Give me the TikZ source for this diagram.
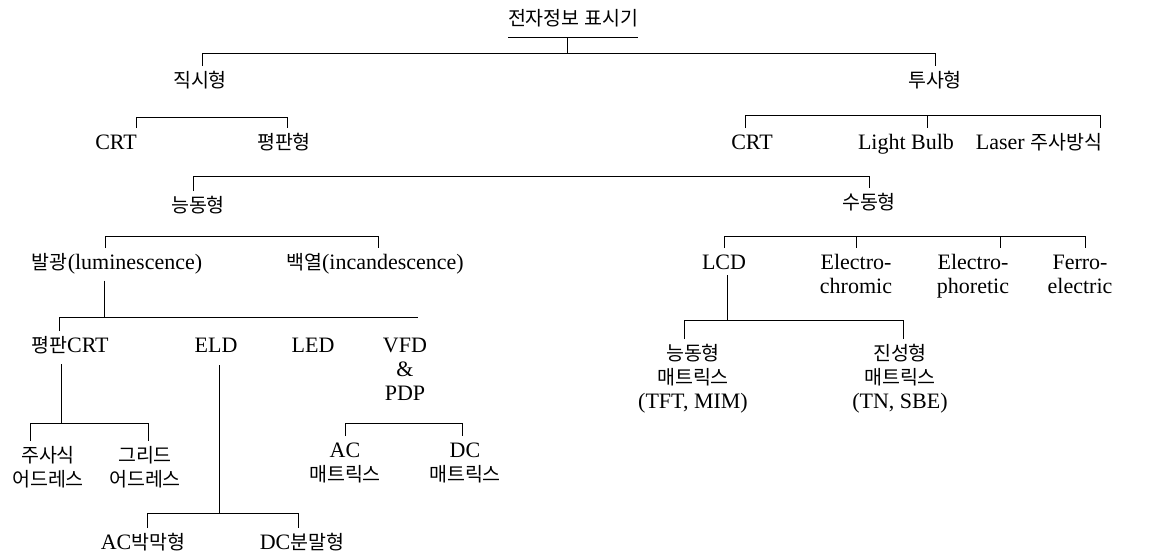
\documentclass[tikz,border=0pt]{standalone}
\usepackage{fontspec}
\setmainfont{Liberation Serif}
\newfontfamily\krfont{Noto Sans CJK KR}
\newcommand\K[1]{{\krfont\fontsize{19.5}{24}\selectfont #1}}
\newcommand\st{\rule{0pt}{17pt}}
\begin{document}
\begin{tikzpicture}[x=1pt,y=-1pt,
  lbl/.style={anchor=north, inner sep=0pt, outer sep=4pt, align=center, font=\fontsize{22}{24}\selectfont},
  ln/.style={line width=0.9pt}]
\useasboundingbox (0,0) rectangle (1152,554);
\fill[white] (0,0) rectangle (1152,554);
% nodes
\node[lbl] (root) at (573,4) {\st\K{전자정보 표시기}};
\node[lbl] (zs) at (200,66) {\st\K{직시형}};
\node[lbl] (ts) at (935,66) {\st\K{투사형}};
\node[lbl] (crtA) at (116,128) {\st CRT};
\node[lbl] (pph) at (284,128) {\st\K{평판형}};
\node[lbl] (crtB) at (752,128) {\st CRT};
\node[lbl] (lb) at (906,128) {\st Light Bulb};
\node[lbl] (laser) at (1039,128) {\st Laser \K{주사방식}};
\node[lbl] (nd) at (198,191) {\st\K{능동형}};
\node[lbl] (sd) at (869,188) {\st\K{수동형}};
\node[lbl] (bg) at (117,248) {\st\K{발광}(luminescence)};
\node[lbl] (by) at (375,248) {\st\K{백열}(incandescence)};
\node[lbl] (pc) at (70,331) {\st\K{평판}CRT};
\node[lbl] (eld) at (216,331) {\st ELD};
\node[lbl] (led) at (313,331) {\st LED};
\node[lbl] (vfd) at (405,331) {\st VFD\\\&\\PDP};
\node[lbl] (jus) at (48,441) {\st\K{주사식}\\\K{어드레스}};
\node[lbl] (gri) at (145,441) {\st\K{그리드}\\\K{어드레스}};
\node[lbl] (acb) at (143,528) {\st AC\K{박막형}};
\node[lbl] (dcb) at (302,528) {\st DC\K{분말형}};
\node[lbl] (acm) at (345,436) {\st AC\\\K{매트릭스}};
\node[lbl] (dcm) at (465,436) {\st DC\\\K{매트릭스}};
\node[lbl] (lcd) at (724,248) {\st LCD};
\node[lbl] (ec) at (856,248) {\st Electro-\\chromic};
\node[lbl] (ep) at (973,248) {\st Electro-\\phoretic};
\node[lbl] (fe) at (1080,248) {\st Ferro-\\electric};
\node[lbl] (ndm) at (693,339) {\st\K{능동형}\\\K{매트릭스}\\(TFT, MIM)};
\node[lbl] (jsm) at (900,339) {\st\K{진성형}\\\K{매트릭스}\\(TN, SBE)};
% junction coordinates
\coordinate (ru) at (567,37);
\coordinate (b0) at (567,53);
\coordinate (b1) at (140,117);
\coordinate (b2) at (927,115);
\coordinate (b3) at (193,176);
\coordinate (b4) at (105,236);
\coordinate (b5) at (104,317);
\coordinate (b5e) at (418,317);
\coordinate (b6) at (61,423);
\coordinate (b7) at (219,513);
\coordinate (b8) at (405,423);
\coordinate (b9) at (724,236);
\coordinate (b10) at (727,320);
% connectors
\draw[ln] ([xshift=4pt]root.west|-ru) -- ([xshift=-4pt]root.east|-ru);
\draw[ln] (ru) -- (b0);
\draw[ln] ([xshift=2pt]zs.north) -- ([xshift=2pt]zs.north|-b0) -- (ts.north|-b0) -- (ts.north);
\draw[ln] ([xshift=-4pt]crtA.north east) -- ([xshift=-4pt]crtA.north east|-b1) -- ([xshift=3pt]pph.north|-b1) -- ([xshift=3pt]pph.north);
\draw[ln] ([xshift=-7pt]crtB.north) -- ([xshift=-7pt]crtB.north|-b2) -- ([xshift=61pt]laser.north|-b2) -- ([xshift=61pt]laser.north);
\draw[ln] (b2) -- ([xshift=21pt]lb.north);
\draw[ln] ([xshift=-5pt]nd.north) -- ([xshift=-5pt]nd.north|-b3) -- (sd.north|-b3) -- (sd.north);
\draw[ln] ([xshift=-12pt]bg.north) -- ([xshift=-12pt]bg.north|-b4) -- ([xshift=3pt]by.north|-b4) -- ([xshift=3pt]by.north);
\draw[ln] ([yshift=-3pt]bg.south-|b5) -- (b5);
\draw[ln] ([xshift=-11pt]pc.north) -- ([xshift=-11pt]pc.north|-b5) -- (b5e);
\draw[ln] ([yshift=-7pt]pc.south-|b6) -- (b6);
\draw[ln] ([xshift=-18pt]jus.north) -- ([xshift=-18pt]jus.north|-b6) -- ([xshift=3pt]gri.north|-b6) -- ([xshift=3pt]gri.north);
\draw[ln] ([yshift=-9pt]eld.south-|b7) -- (b7);
\draw[ln] ([xshift=4pt]acb.north) -- ([xshift=4pt]acb.north|-b7) -- ([xshift=-4pt]dcb.north|-b7) -- ([xshift=-4pt]dcb.north);
\draw[ln] (acm.north) -- (acm.north|-b8) -- ([xshift=-3pt]dcm.north|-b8) -- ([xshift=-3pt]dcm.north);
\draw[ln] (lcd.north) -- (lcd.north|-b9) -- ([xshift=5pt]fe.north|-b9) -- ([xshift=5pt]fe.north);
\draw[ln] (ec.north|-b9) -- (ec.north);
\draw[ln] ([xshift=27pt]ep.north|-b9) -- ([xshift=27pt]ep.north);
\draw[ln] ([yshift=-2pt]lcd.south-|b10) -- (b10);
\draw[ln] ([xshift=-9pt]ndm.north) -- ([xshift=-9pt]ndm.north|-b10) -- ([xshift=3pt]jsm.north|-b10) -- ([xshift=3pt]jsm.north);
\end{tikzpicture}
\end{document}
